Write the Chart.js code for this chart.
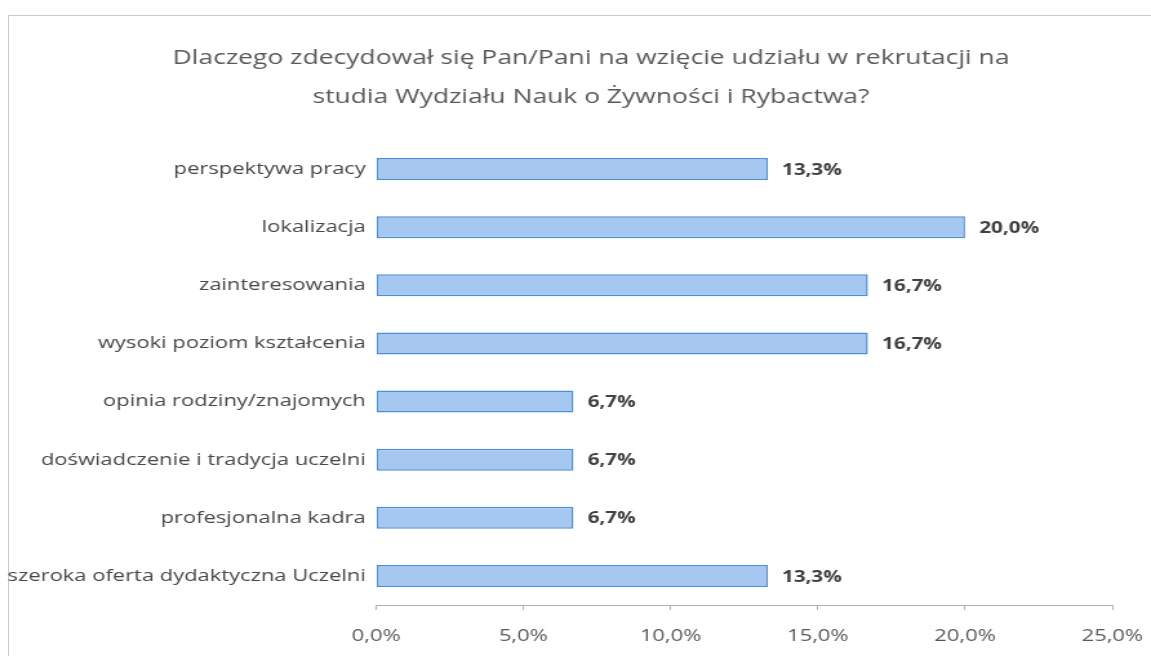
<!DOCTYPE html>
<html>
<head>
<meta charset="utf-8">
<script src="https://cdn.jsdelivr.net/npm/chart.js@4"></script>
<style>
  body { margin: 0; background: #fff; overflow: hidden; }
  #frame { position: absolute; left: 8px; top: 15px; width: 1160px; height: 660px; border-left: 1px solid #c8c8d8; border-top: 1px solid #c8c8d8; }
  #wrap { position: absolute; left: 0; top: 0; width: 1151px; height: 656px; }
</style>
</head>
<body>
<div id="frame"></div>
<!-- the source picture is a wide scan, so the drawing is stretched sideways -->
<div id="wrap"><canvas id="chart" width="892" height="656" style="width:1151px;height:656px"></canvas></div>
<script>
// Data
const titleLines = [
    "Dlaczego zdecydował się Pan/Pani na wzięcie udziału w rekrutacji na",
    "studia Wydziału Nauk o Żywności i Rybactwa?"
];
const categories = [
    "perspektywa pracy",
    "lokalizacja",
    "zainteresowania",
    "wysoki poziom kształcenia",
    "opinia rodziny/znajomych",
    "doświadczenie i tradycja uczelni",
    "profesjonalna kadra",
    "szeroka oferta dydaktyczna Uczelni"
];
const values = [13.3, 20.0, 16.7, 16.7, 6.7, 6.7, 6.7, 13.3];
const tickValues = [0, 5, 10, 15, 20, 25];

const fontFamily = "'Open Sans', 'Noto Sans', sans-serif";
const fmt = v => v.toFixed(1).replace('.', ',') + '%';

// value labels to the right of bars
const valueLabels = {
    id: 'valueLabels',
    afterDatasetsDraw(chart) {
        const ctx = chart.ctx;
        const meta = chart.getDatasetMeta(0);
        ctx.save();
        ctx.font = "bold 16px " + fontFamily;
        ctx.fillStyle = '#404040';
        ctx.textAlign = 'left';
        ctx.textBaseline = 'middle';
        meta.data.forEach((bar, i) => {
            ctx.fillText(fmt(values[i]), bar.x + 11, bar.y + 1);
        });
        ctx.restore();
    }
};

// title sits a little right of the canvas centre, like the original
const chartTitle = {
    id: 'chartTitle',
    afterDraw(chart) {
        const ctx = chart.ctx;
        ctx.save();
        ctx.font = "20.5px " + fontFamily;
        ctx.fillStyle = '#595959';
        ctx.textAlign = 'center';
        ctx.textBaseline = 'middle';
        titleLines.forEach((line, i) => {
            ctx.fillText(line, 458, 58 + i * 39);
        });
        ctx.restore();
    }
};

const ctx = document.getElementById('chart').getContext('2d');
new Chart(ctx, {
    type: 'bar',
    data: {
        labels: categories,
        datasets: [{
            data: values,
            backgroundColor: '#a6c8f0',
            borderColor: '#4a90d9',
            borderWidth: 1.5,
            borderSkipped: false,
            barPercentage: 0.38,
            categoryPercentage: 1.0
        }]
    },
    options: {
        indexAxis: 'y',
        responsive: false,
        animation: false,
        layout: { padding: { left: 4, right: 30, top: 140, bottom: 0 } },
        plugins: {
            legend: { display: false },
            tooltip: { enabled: false },
            title: { display: false }
        },
        scales: {
            x: {
                min: 0,
                max: 25,
                afterBuildTicks(axis) {
                    axis.ticks = tickValues.map(v => ({ value: v }));
                },
                afterFit(axis) {
                    axis.height = 51;
                    axis.paddingRight = 0;
                    axis.paddingLeft = 0;
                },
                ticks: {
                    color: '#595959',
                    font: { family: fontFamily, size: 17 },
                    padding: 16,
                    maxRotation: 0,
                    callback: v => fmt(v)
                },
                grid: {
                    drawOnChartArea: false,
                    drawTicks: true,
                    tickLength: 5,
                    color: '#b0b0c0'
                },
                border: { color: '#b0b0c0' }
            },
            y: {
                afterFit(axis) { axis.width = 287.5; },
                ticks: {
                    color: '#474747',
                    font: { family: fontFamily, size: 17 },
                    padding: 8
                },
                grid: { display: false, drawTicks: false },
                border: { display: false }
            }
        }
    },
    plugins: [valueLabels, chartTitle]
});
</script>
</body>
</html>
